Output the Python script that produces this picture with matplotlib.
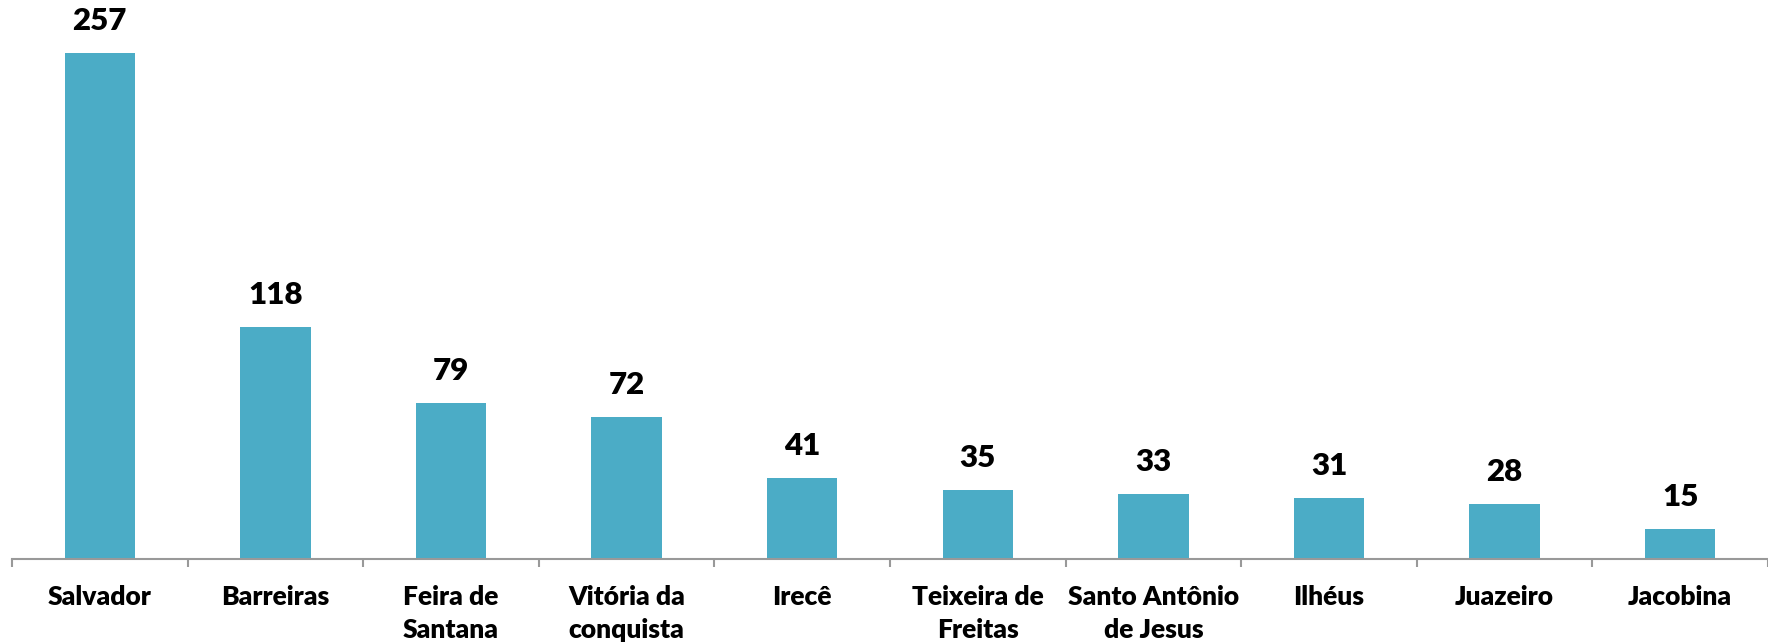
import numpy as np
import matplotlib
matplotlib.use("Agg")
import matplotlib.pyplot as plt

# data
cities = ["Salvador", "Barreiras", "Feira de\nSantana", "Vitória da\nconquista", "Irecê",
          "Teixeira de\nFreitas", "Santo Antônio\nde Jesus", "Ilhéus", "Juazeiro", "Jacobina"]
counts = [257, 118, 79, 72, 41, 35, 33, 31, 28, 15]

plt.rcParams['font.family'] = ['Lato', 'DejaVu Sans']

fig = plt.figure(figsize=(17.68, 6.42), dpi=100)
ax = fig.add_axes([12 / 1768, 1 - 559 / 642, 1 - 12 / 1768, 559 / 642])

x = np.arange(len(cities))
bars = ax.bar(x, counts, width=0.4, color='#4BACC6')

for b, v in zip(bars, counts):
    ax.annotate(str(v), (b.get_x() + b.get_width() / 2, v), xytext=(0, 13),
                textcoords='offset points', ha='center', va='bottom',
                fontsize=22.5, fontweight='heavy', color='black')

ax.set_xlim(-0.5, len(cities) - 0.5)
ax.set_ylim(0, 559 / (506 / 257))

for s in ['top', 'right', 'left']:
    ax.spines[s].set_visible(False)
ax.spines['bottom'].set_color('#999999')
ax.spines['bottom'].set_linewidth(1.5)

ax.set_yticks([])
ax.set_xticks(x)
ax.set_xticklabels(cities, fontsize=19, fontweight='heavy', linespacing=1.45)
ax.tick_params(axis='x', which='major', length=0, pad=19)
ax.set_xticks(np.arange(len(cities) + 1) - 0.5, minor=True)
ax.tick_params(axis='x', which='minor', length=6, width=1.5, color='#999999')

fig.savefig('out.png', dpi=100)
